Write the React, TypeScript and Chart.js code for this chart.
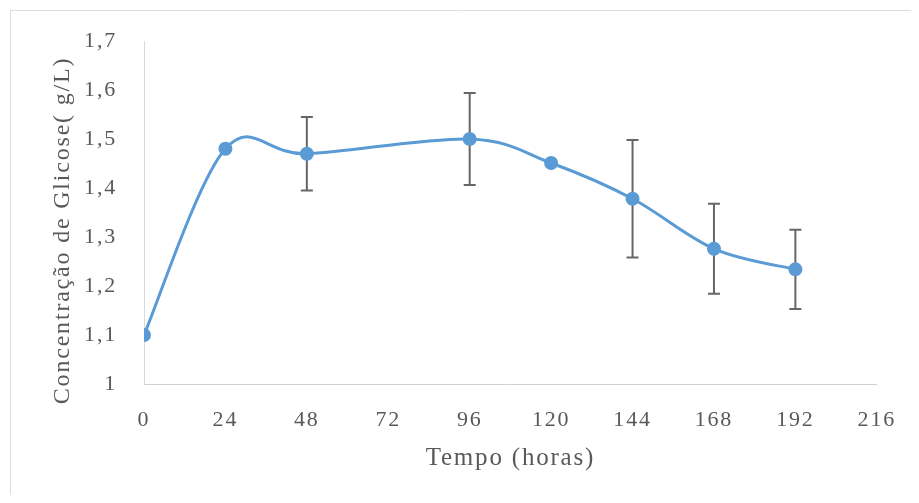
import React, { useEffect, useRef } from "react";
import { Chart, registerables } from "chart.js";

Chart.register(...registerables);

// Sampling times (hours) and mean glucose concentration (g/L)
const hours = [0, 24, 48, 96, 120, 144, 168, 192];
const glucose = [1.1, 1.48, 1.47, 1.5, 1.451, 1.378, 1.276, 1.234];
// Standard deviation for each sample (0 = no bar shown)
const glucoseSd = [0, 0, 0.075, 0.094, 0, 0.12, 0.092, 0.081];

const yMin = 1;
const yMax = 1.7;
const yStep = 0.1;
const xMin = 0;
const xMax = 216;
const xStep = 24;

const yTitle = "Concentração de Glicose( g/L)";
const xTitle = "Tempo (horas)";

const TEXT = "#595959";
const AXIS = "#d9d9d9";
const BLUE = "#5b9bd5";
const BAR = "#666666";
const FONT = "'Liberation Serif', 'Times New Roman', serif";
const SPACING = "1.8px";

// Wider letter spacing for the serif labels
const spacingPlugin = {
  id: "spacing",
  beforeUpdate(chart: any) {
    chart.ctx.letterSpacing = SPACING;
  },
  beforeDraw(chart: any) {
    chart.ctx.letterSpacing = SPACING;
  },
};

// Uniform Catmull-Rom style smoothing (spreadsheet-like smoothed line)
const smoothPlugin = {
  id: "smooth",
  afterDatasetsUpdate(chart: any) {
    const meta = chart.getDatasetMeta(0);
    const pts = meta.data;
    const k = 1 / 6;
    pts.forEach((p: any, i: number) => {
      const prev = pts[i - 1] || p;
      const next = pts[i + 1] || p;
      const dx = (next.x - prev.x) * k;
      const dy = (next.y - prev.y) * k;
      p.cp1x = p.x - dx;
      p.cp1y = p.y - dy;
      p.cp2x = p.x + dx;
      p.cp2y = p.y + dy;
    });
    if (meta.dataset) meta.dataset._pointsUpdated = true;
  },
};

// Thin frame along the top and left of the figure
const framePlugin = {
  id: "frame",
  beforeDraw(chart: any) {
    const { ctx, width, height } = chart;
    ctx.save();
    ctx.strokeStyle = "#dedede";
    ctx.lineWidth = 1;
    ctx.beginPath();
    ctx.moveTo(2.5, height);
    ctx.lineTo(2.5, 2.5);
    ctx.lineTo(width, 2.5);
    ctx.stroke();
    ctx.restore();
  },
};

// Rotated y-axis title, placed left of the tick labels
const yTitlePlugin = {
  id: "yTitle",
  afterDraw(chart: any) {
    const { ctx, chartArea } = chart;
    ctx.save();
    ctx.letterSpacing = SPACING;
    ctx.fillStyle = TEXT;
    ctx.font = `24px ${FONT}`;
    ctx.textAlign = "center";
    ctx.textBaseline = "middle";
    ctx.translate(chartArea.left - 81, (chartArea.top + chartArea.bottom) / 2 + 18);
    ctx.rotate(-Math.PI / 2);
    ctx.fillText(yTitle, 0, 0);
    ctx.restore();
  },
};

// Vertical error bars with caps, drawn beneath the markers
const errorBarPlugin = {
  id: "errorBars",
  beforeDatasetsDraw(chart: any) {
    const { ctx } = chart;
    const xs = chart.scales.x;
    const ys = chart.scales.y;
    ctx.save();
    ctx.strokeStyle = BAR;
    ctx.lineWidth = 2;
    hours.forEach((h, i) => {
      const sd = glucoseSd[i];
      if (!sd) return;
      const px = xs.getPixelForValue(h);
      const top = ys.getPixelForValue(glucose[i] + sd);
      const bot = ys.getPixelForValue(glucose[i] - sd);
      const cap = 6;
      ctx.beginPath();
      ctx.moveTo(px, top);
      ctx.lineTo(px, bot);
      ctx.moveTo(px - cap, top);
      ctx.lineTo(px + cap, top);
      ctx.moveTo(px - cap, bot);
      ctx.lineTo(px + cap, bot);
      ctx.stroke();
    });
    ctx.restore();
  },
};

function formatY(v: number) {
  const r = Math.round(v * 10) / 10;
  return Number.isInteger(r) ? String(r) : r.toFixed(1).replace(".", ",");
}

export default function App() {
  const ref = useRef<HTMLCanvasElement>(null);

  useEffect(() => {
    if (!ref.current) return;
    const chart = new Chart(ref.current, {
      type: "line",
      data: {
        datasets: [
          {
            data: hours.map((h, i) => ({ x: h, y: glucose[i] })),
            borderColor: BLUE,
            backgroundColor: BLUE,
            borderWidth: 3,
            pointRadius: 7,
            pointBorderWidth: 0,
            pointBackgroundColor: BLUE,
            tension: 0.33,
            fill: false,
          },
        ],
      },
      options: {
        animation: false,
        responsive: true,
        maintainAspectRatio: false,
        layout: { padding: { left: 37, top: 33, right: 34, bottom: 22 } },
        plugins: {
          legend: { display: false },
          tooltip: { enabled: false },
        },
        scales: {
          x: {
            type: "linear",
            min: xMin,
            max: xMax,
            grid: { display: false },
            border: { display: true, color: "#d0d0d0", width: 1 },
            ticks: {
              stepSize: xStep,
              color: TEXT,
              padding: 15,
              font: { family: FONT, size: 22 },
              maxRotation: 0,
            },
            title: {
              display: true,
              text: xTitle,
              color: TEXT,
              font: { family: FONT, size: 25 },
              padding: { top: 4, bottom: 0 },
            },
            afterFit(scale: any) {
              scale.height = 89;
            },
          },
          y: {
            type: "linear",
            min: yMin,
            max: yMax,
            grid: { display: false },
            border: { display: true, color: AXIS, width: 1 },
            ticks: {
              stepSize: yStep,
              color: TEXT,
              padding: 19,
              font: { family: FONT, size: 22 },
              callback: (v: any) => formatY(Number(v)),
            },
            afterFit(scale: any) {
              scale.width = 99;
            },
          },
        },
      },
      plugins: [spacingPlugin, smoothPlugin, framePlugin, errorBarPlugin, yTitlePlugin],
    } as any);
    return () => chart.destroy();
  }, []);

  return (
    <div style={{ width: 903, height: 487, position: "relative", background: "#fff" }}>
      <canvas ref={ref} />
    </div>
  );
}
